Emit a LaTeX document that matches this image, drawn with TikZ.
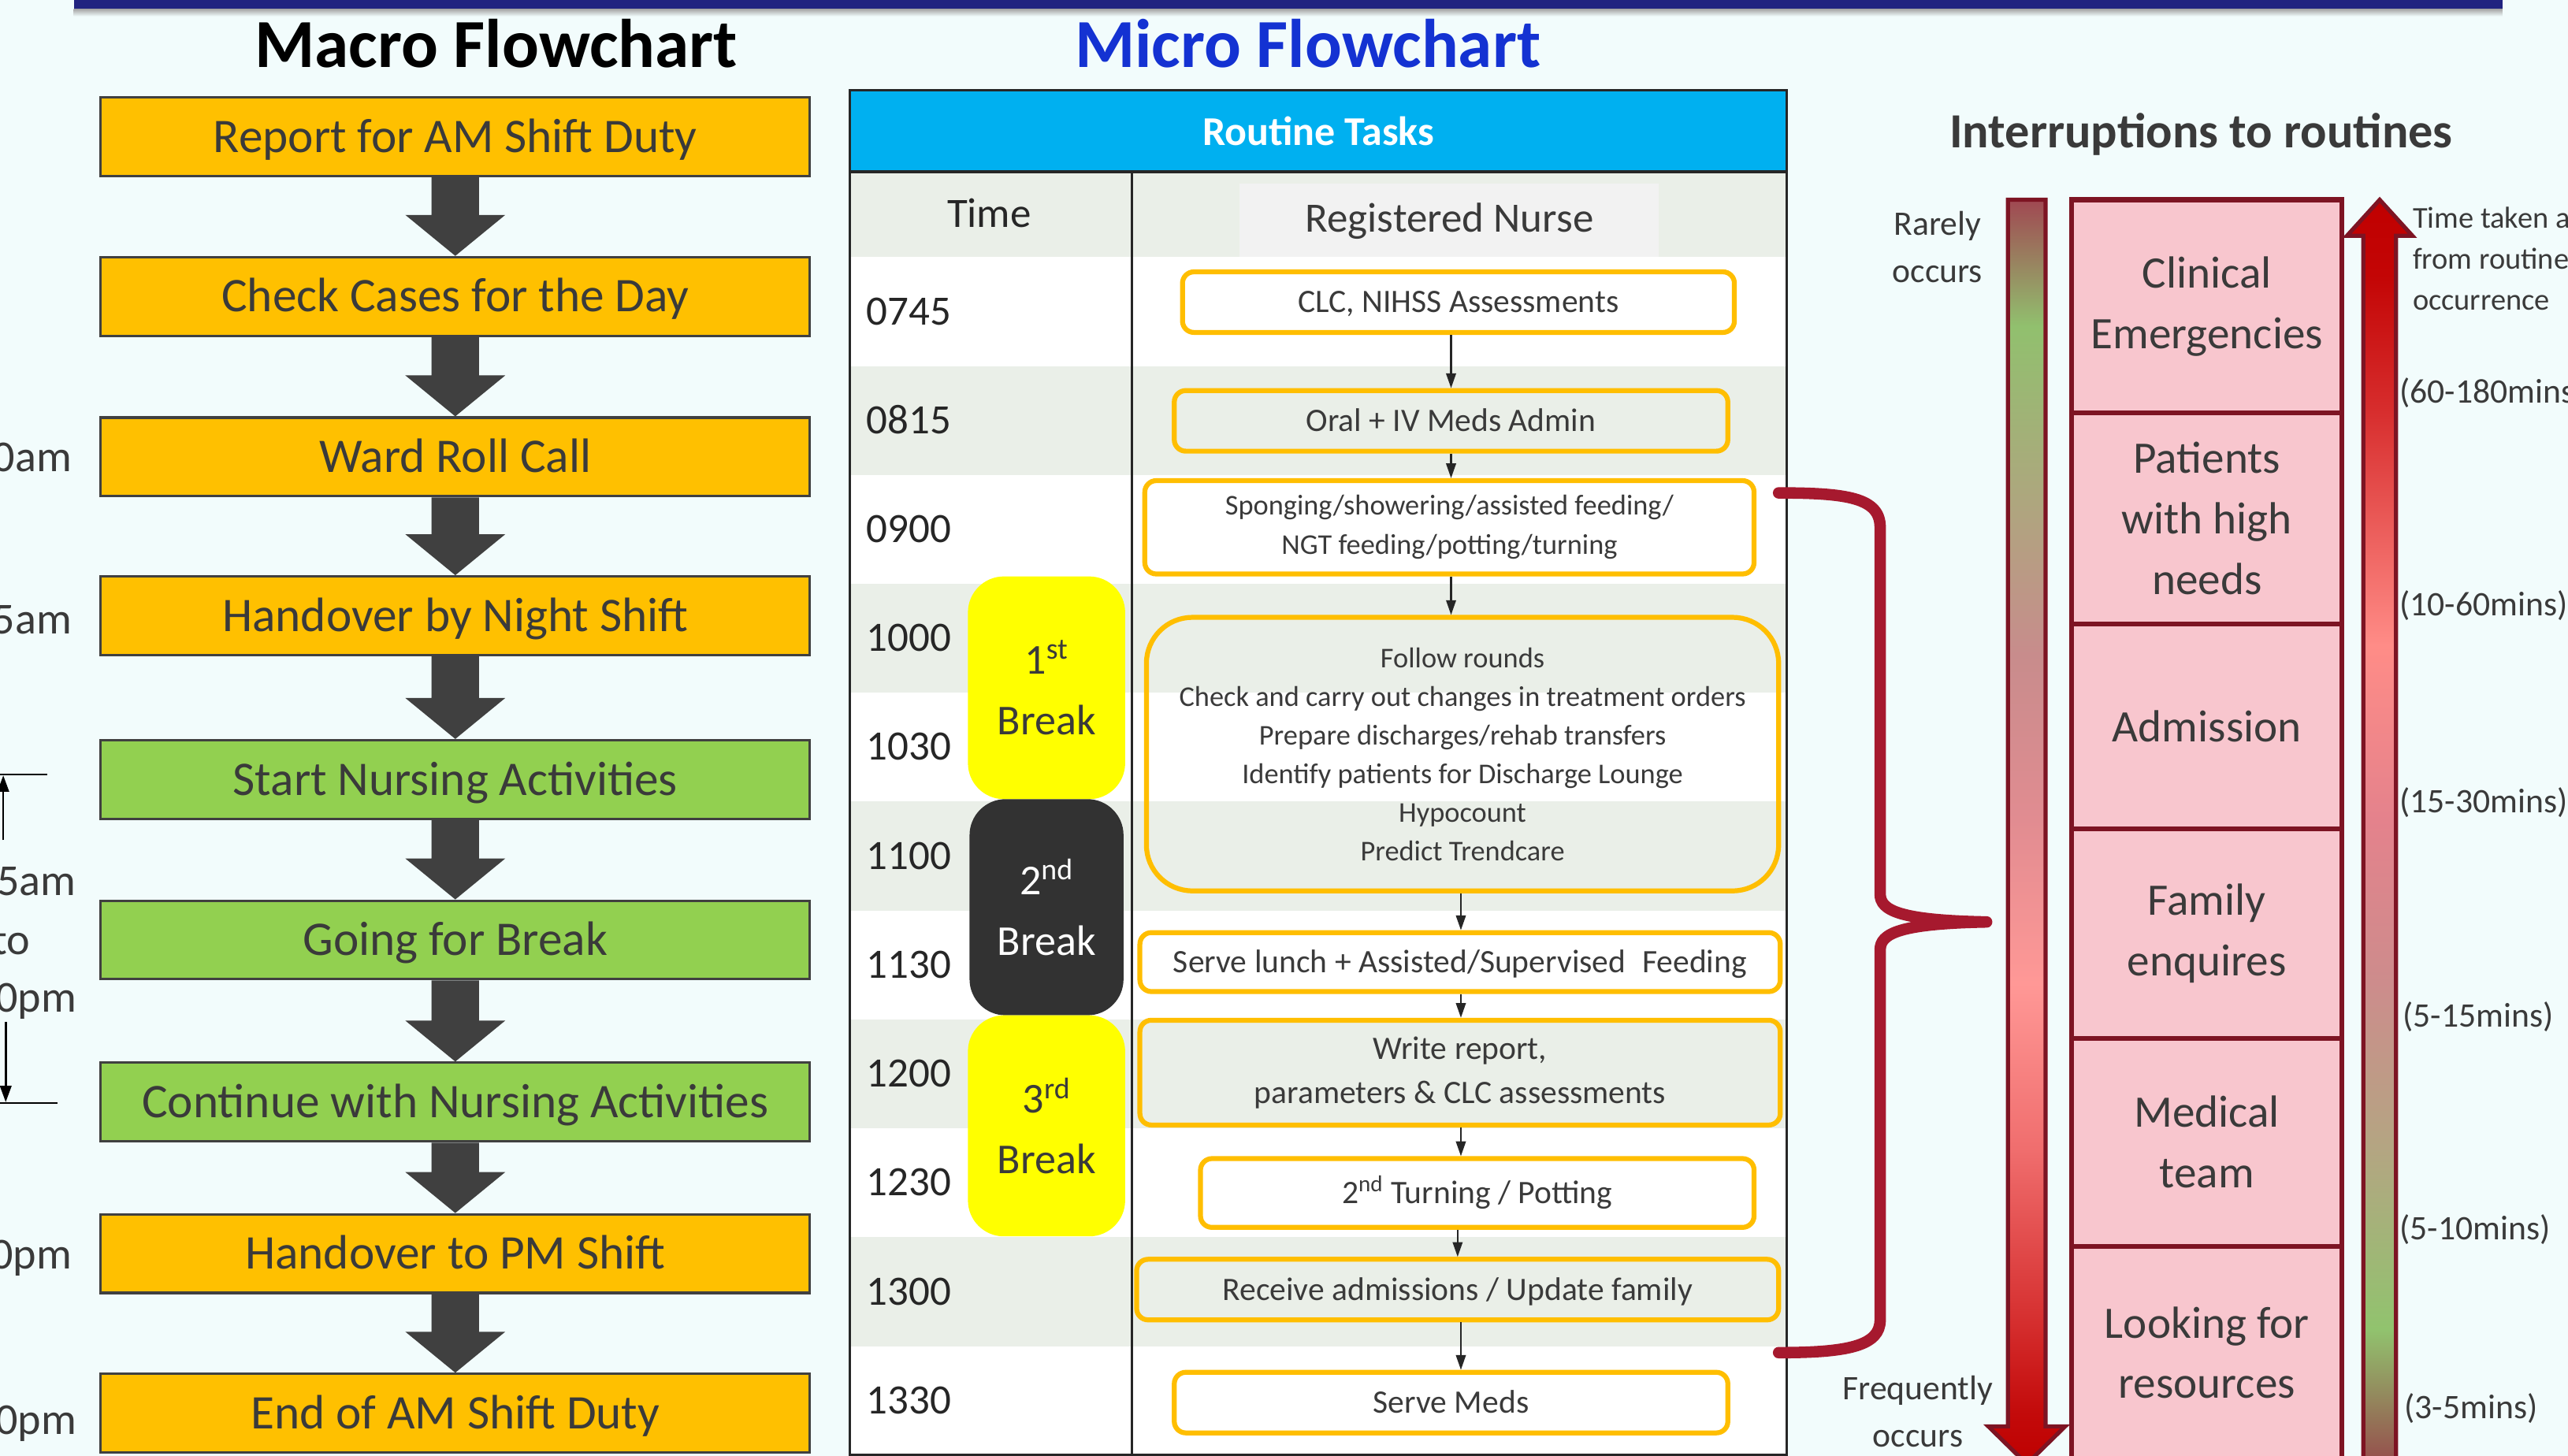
\documentclass[tikz,border=0pt]{standalone}
\usepackage{fontspec}
\setmainfont{Carlito}
\usetikzlibrary{arrows.meta,calc}

\definecolor{bg}{RGB}{242,252,252}
\definecolor{navy}{RGB}{33,35,128}
\definecolor{morange}{RGB}{255,192,0}
\definecolor{mgreen}{RGB}{146,208,80}
\definecolor{agray}{RGB}{64,64,64}
\definecolor{tgray}{RGB}{58,58,58}
\definecolor{hblue}{RGB}{0,176,240}
\definecolor{rowgray}{RGB}{234,239,232}
\definecolor{rnbg}{RGB}{242,242,242}
\definecolor{taskor}{RGB}{255,190,0}
\definecolor{yel}{RGB}{255,255,0}
\definecolor{dbreak}{RGB}{50,50,50}
\definecolor{bracered}{RGB}{166,25,46}
\definecolor{pinkf}{RGB}{248,198,206}
\definecolor{pinkb}{RGB}{125,20,35}
\definecolor{microblue}{RGB}{20,50,210}

\definecolor{lA}{RGB}{190,0,0}
\definecolor{lB}{RGB}{195,10,10}
\definecolor{lC}{RGB}{215,50,50}
\definecolor{lD}{RGB}{240,110,110}
\definecolor{lE}{RGB}{255,152,150}
\definecolor{lF}{RGB}{225,140,145}
\definecolor{lG}{RGB}{200,140,140}
\definecolor{lH}{RGB}{172,168,125}
\definecolor{lI}{RGB}{145,192,110}
\definecolor{lJ}{RGB}{160,72,82}

\definecolor{rA}{RGB}{150,75,75}
\definecolor{rB}{RGB}{145,195,110}
\definecolor{rC}{RGB}{180,165,130}
\definecolor{rD}{RGB}{205,140,140}
\definecolor{rE}{RGB}{228,130,140}
\definecolor{rF}{RGB}{255,140,135}
\definecolor{rG}{RGB}{215,45,45}
\definecolor{rH}{RGB}{195,5,5}
\definecolor{rI}{RGB}{192,0,0}

\pgfdeclareverticalshading{leftbar}{100bp}{color(0bp)=(lA); color(25bp)=(lA); color(27bp)=(lB); color(31bp)=(lC); color(37.5bp)=(lD); color(44bp)=(lE); color(50.5bp)=(lF); color(57bp)=(lG); color(63.5bp)=(lH); color(70bp)=(lI); color(75bp)=(lJ); color(100bp)=(lJ)}
\pgfdeclareverticalshading{rightbar}{100bp}{color(0bp)=(rA); color(25bp)=(rA); color(30.4bp)=(rB); color(37.6bp)=(rC); color(44.1bp)=(rD); color(50.5bp)=(rE); color(57.4bp)=(rF); color(66.7bp)=(rG); color(72bp)=(rH); color(75bp)=(rI); color(100bp)=(rI)}

\newcommand\blockarrow[2]{%
  \fill[agray] ($(#1.south)+(-14.5,0)$) -- ($(#1.south)+(14.5,0)$) --
    ($(#2.north)+(14.5,-25)$) -- ($(#2.north)+(30.5,-25)$) -- (#2.north) --
    ($(#2.north)+(-30.5,-25)$) -- ($(#2.north)+(-14.5,-25)$) -- cycle;}

\begin{document}
\begin{tikzpicture}[x=1pt,y=-1pt,
  macro/.style={draw=agray, line width=1.5pt, minimum width=433pt, minimum height=48pt,
    inner sep=0pt, font=\fontsize{29.5}{35}\selectfont, text=tgray, text height=19pt, text depth=0pt},
  mo/.style={macro, fill=morange},
  mg/.style={macro, fill=mgreen},
  task/.style={draw=taskor, line width=3pt, rounded corners=7pt, inner sep=0pt,
    font=\fontsize{20}{24}\selectfont, text=tgray, align=center},
  one/.style={text height=13pt, text depth=0pt},
  tarr/.style={draw=black!85, line width=1pt, -{Triangle[width=6pt,length=9pt]}},
  timel/.style={anchor=west, font=\fontsize{25.5}{30}\selectfont, text=black!85,
    text height=16pt, text depth=0pt, inner sep=0pt},
  brk/.style={rounded corners=22pt, inner sep=0pt, align=center, font=\fontsize{26}{37}\selectfont},
  pbox/.style={draw=pinkb, fill=pinkf, line width=3pt, minimum width=165pt, inner sep=0pt,
    align=center, font=\fontsize{27.5}{37}\selectfont, text=tgray},
  side/.style={font=\fontsize{21}{29}\selectfont, text=tgray, align=center, inner sep=0pt},
  rang/.style={anchor=west, font=\fontsize{21}{25}\selectfont, text=tgray, inner sep=0pt},
  lbl/.style={anchor=base east, font=\fontsize{27}{32}\selectfont, text=tgray, inner sep=0pt},
  thinarr/.style={draw=black, line width=1.2pt, -{Triangle[width=7pt,length=10pt]}},
  plain/.style={draw=black, line width=1.2pt}
]
\useasboundingbox (0,0) rectangle (1568,889);
\clip (0,0) rectangle (1568,889);
\fill[bg] (0,0) rectangle (1568,889);

% top bar
\fill[navy] (45,0) rectangle (1528,5.5);
\shade[top color=black!35, bottom color=bg] (45,5.5) rectangle (1528,10);

% titles
\node[anchor=base, font=\bfseries\fontsize{42}{50}\selectfont, text=black, inner sep=0pt] (tmac) at (303,41) {Macro Flowchart};
\node[anchor=base, font=\bfseries\fontsize{42}{50}\selectfont, text=microblue, inner sep=0pt] (tmic) at (798.5,41) {Micro Flowchart};
\node[anchor=base, font=\bfseries\fontsize{30}{36}\selectfont, text=tgray, inner sep=0pt] (tint) at (1344,90) {Interruptions to routines};

% macro flowchart
\node[mo] (m1) at (278,83.5) {Report for AM Shift Duty};
\node[mo] (m2) at (278,181) {Check Cases for the Day};
\node[mo] (m3) at (278,279) {Ward Roll Call};
\node[mo] (m4) at (278,376) {Handover by Night Shift};
\node[mg] (m5) at (278,476) {Start Nursing Activities};
\node[mg] (m6) at (278,574) {Going for Break};
\node[mg] (m7) at (278,673) {Continue with Nursing Activities};
\node[mo] (m8) at (278,765.5) {Handover to PM Shift};
\node[mo] (m9) at (278,863) {End of AM Shift Duty};
\blockarrow{m1}{m2}
\blockarrow{m2}{m3}
\blockarrow{m3}{m4}
\blockarrow{m4}{m5}
\blockarrow{m5}{m6}
\blockarrow{m6}{m7}
\blockarrow{m7}{m8}
\blockarrow{m8}{m9}

% left time labels (cut at the edge)
\node[lbl] (l1) at (44,288) {0am};
\node[lbl] (l2) at (44,387) {5am};
\node[lbl] (l3) at (46.5,547) {5am};
\node[lbl] (l4) at (18.6,583) {to};
\node[lbl] (l5) at (47,618) {0pm};
\node[lbl] (l6) at (44,775) {0pm};
\node[lbl] (l7) at (47,876) {0pm};
\coordinate (h1a) at (0,473);
\coordinate (h1b) at (29,473);
\coordinate (u1) at (2,513);
\coordinate (u2) at (2,473.5);
\draw[plain] (h1a) -- (h1b);
\draw[thinarr] (u1) -- (u2);
\coordinate (h2a) at (0,673.6);
\coordinate (h2b) at (35,673.6);
\coordinate (d1) at (3.5,624);
\coordinate (d2) at (3.5,673);
\draw[plain] (h2a) -- (h2b);
\draw[thinarr] (d1) -- (d2);

% micro table rows
\fill[white] (519,105) rectangle (1091,889);
\fill[rowgray] (519,105) rectangle (1091,157);
\fill[rowgray] (519,223.5) rectangle (1091,290);
\fill[rowgray] (519,356.5) rectangle (1091,423);
\fill[rowgray] (519,489.5) rectangle (1091,556);
\fill[rowgray] (519,622.5) rectangle (1091,689);
\fill[rowgray] (519,755.5) rectangle (1091,822);
\fill[rnbg] (757,112) rectangle (1013,157);

% breaks
\node[brk, fill=yel, minimum width=96pt, minimum height=136pt, text=tgray] (b1) at (639,420) {1\textsuperscript{st}\\Break};
\node[brk, fill=dbreak, minimum width=94pt, minimum height=132pt, text=white] (b2) at (639,554) {2\textsuperscript{nd}\\Break};
\node[brk, fill=yel, minimum width=96pt, minimum height=135pt, text=tgray] (b3) at (639,687.5) {3\textsuperscript{rd}\\Break};

% table headings and times
\node[font=\fontsize{25.5}{30}\selectfont, text=black!85, inner sep=0pt] (htime) at (604,130) {Time};
\node[font=\fontsize{25.5}{30}\selectfont, text=tgray, inner sep=0pt] (hrn) at (885,135) {Registered Nurse};
\node[timel] (tm1) at (529,190.25) {0745};
\node[timel] (tm2) at (529,256.75) {0815};
\node[timel] (tm3) at (529,323.25) {0900};
\node[timel] (tm4) at (529,389.75) {1000};
\node[timel] (tm5) at (529,456.25) {1030};
\node[timel] (tm6) at (529,522.75) {1100};
\node[timel] (tm7) at (529,589.25) {1130};
\node[timel] (tm8) at (529,655.75) {1200};
\node[timel] (tm9) at (529,722.25) {1230};
\node[timel] (tm10) at (529,788.75) {1300};
\node[timel] (tm11) at (529,855.25) {1330};

% tasks
\node[task, one, minimum width=337pt, minimum height=37pt] (t1) at (890.5,184.5) {CLC, NIHSS Assessments};
\node[task, one, minimum width=338pt, minimum height=37pt] (t2) at (886,257) {Oral + IV Meds Admin};
\node[task, minimum width=372pt, minimum height=57pt, font=\fontsize{17.5}{24}\selectfont] (t3) at (885,322) {Sponging/showering/assisted feeding/\\NGT feeding/potting/turning};
\node[task, rounded corners=28pt, minimum width=386pt, minimum height=167pt, font=\fontsize{17.5}{23.6}\selectfont] (t4) at (893,460.5) {Follow rounds\\Check and carry out changes in treatment orders\\Prepare discharges/rehab transfers\\Identify patients for Discharge Lounge\\Hypocount\\Predict Trendcare};
\node[task, one, minimum width=391pt, minimum height=36pt] (t5) at (891.5,587.5) {Serve lunch + Assisted/Supervised\hspace{0.5em}Feeding};
\node[task, minimum width=391pt, minimum height=64pt, font=\fontsize{20}{27}\selectfont] (t6) at (891.5,655) {Write report,\\parameters \& CLC assessments};
\node[task, one, minimum width=338pt, minimum height=42pt] (t7) at (902,728.5) {2\textsuperscript{nd} Turning / Potting};
\node[task, one, minimum width=392pt, minimum height=37pt] (t8) at (890,787.5) {Receive admissions / Update family};
\node[task, one, minimum width=338pt, minimum height=37pt] (t9) at (886,856.5) {Serve Meds};

\coordinate (xa) at (886,0);
\coordinate (xb) at (892,0);
\coordinate (xc) at (890,0);
\draw[tarr] (t1.south -| xa) -- (t2.north -| xa);
\draw[tarr] (t2.south -| xa) -- (t3.north -| xa);
\draw[tarr] (t3.south -| xa) -- (t4.north -| xa);
\draw[tarr] (t4.south -| xb) -- (t5.north -| xb);
\draw[tarr] (t5.south -| xb) -- (t6.north -| xb);
\draw[tarr] (t6.south -| xb) -- (t7.north -| xb);
\draw[tarr] (t7.south -| xc) -- (t8.north -| xc);
\draw[tarr] (t8.south -| xb) -- (t9.north -| xb);

% header and table lines
\node[fill=hblue, minimum width=572pt, minimum height=50pt, inner sep=0pt,
  font=\bfseries\fontsize{25}{30}\selectfont, text=white] (hdr) at (805,80) {Routine Tasks};
\draw[black!85, line width=1.5pt] (691,105) -- (691,889);
\draw[black!85, line width=2pt] (519,105) -- (1091,105);
\draw[black!85, line width=1.5pt] (519,55) rectangle (1091,888.5);

% brace
\draw[bracered, line width=7pt, line cap=round, line join=round]
  (1086,301) .. controls (1128,301) and (1148,304) .. (1148,322) -- (1148,546)
  .. controls (1148,556) and (1160,562) .. (1213,563)
  .. controls (1160,564) and (1148,570) .. (1148,580) -- (1148,806)
  .. controls (1148,822) and (1128,826) .. (1086,826);

% frequency arrow
\node[side] (rare) at (1183,151) {Rarely\\occurs};
\node[side] (freq) at (1171,862) {Frequently\\occurs};
\shadedraw[shading=leftbar, draw=pinkb, line width=2.5pt]
  (1226,122) -- (1249,122) -- (1249,871) -- (1261,871) -- (1237.5,894) -- (1214,871) -- (1226,871) -- cycle;

% interruption boxes
\node[pbox, minimum height=130pt] (p1) at (1347.5,187) {Clinical\\Emergencies};
\node[pbox, minimum height=129pt] (p2) at (1347.5,316.5) {Patients\\with high\\needs};
\node[pbox, minimum height=125pt] (p3) at (1347.5,443.5) {Admission};
\node[pbox, minimum height=128pt] (p4) at (1347.5,570) {Family\\enquires};
\node[pbox, minimum height=127pt] (p5) at (1347.5,697.5) {Medical\\team};
\node[pbox, minimum height=130pt] (p6) at (1347.5,826) {Looking for\\resources};

% time taken arrow
\shadedraw[shading=rightbar, draw=pinkb, line width=2.5pt]
  (1453,122) -- (1473,144) -- (1463,144) -- (1463,895) -- (1443,895) -- (1443,144) -- (1433,144) -- cycle;
\node[anchor=west, align=left, font=\fontsize{18.5}{25}\selectfont, text=tgray, inner sep=0pt] (ttk) at (1473,158) {Time taken a\\from routine\\occurrence};
\node[rang] (r1) at (1465,240) {(60-180mins};
\node[rang] (r2) at (1465,370) {(10-60mins)};
\node[rang] (r3) at (1465,490) {(15-30mins)};
\node[rang] (r4) at (1467,621) {(5-15mins)};
\node[rang] (r5) at (1465,751) {(5-10mins)};
\node[rang] (r6) at (1468,860) {(3-5mins)};
\end{tikzpicture}
\end{document}
